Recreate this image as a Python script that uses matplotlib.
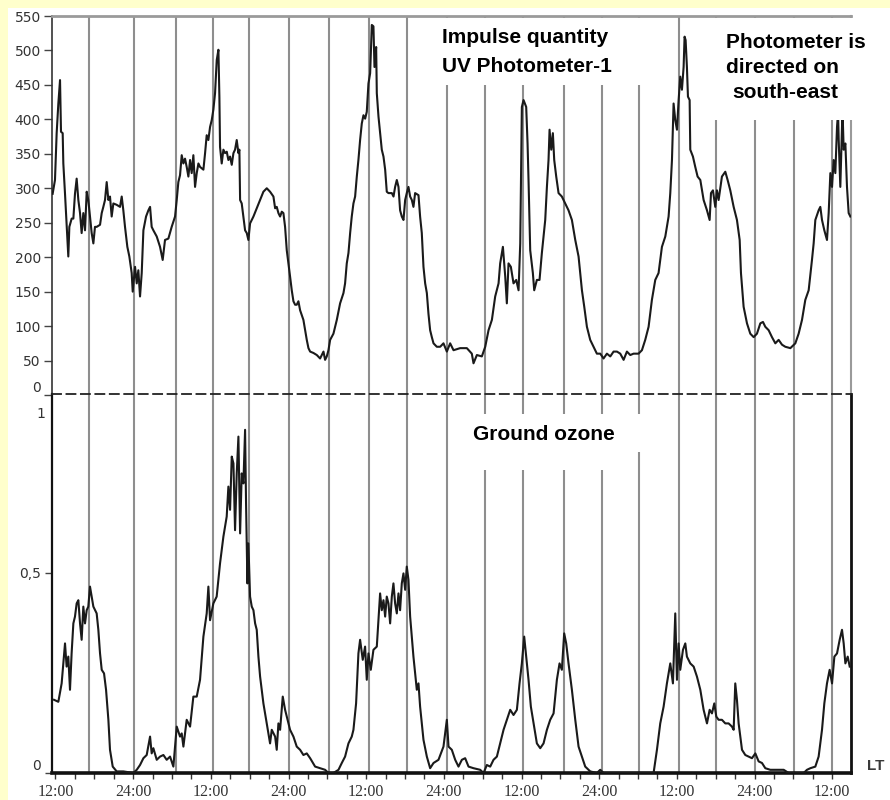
import numpy as np
import matplotlib.pyplot as plt
from matplotlib.patches import Rectangle
from matplotlib.transforms import ScaledTranslation

# hours since the first 12:00 mark
uv_points = [
    (-0.44, 292), (-0.08, 312), (0.18, 380), (0.44, 423), (0.70, 457), (0.85, 382),
    (1.11, 380), (1.21, 336), (1.47, 292), (1.73, 244), (1.98, 201), (2.14, 244),
    (2.50, 256), (2.76, 256), (3.01, 292), (3.27, 314), (3.53, 283), (3.79, 264),
    (4.04, 235), (4.30, 264), (4.56, 239), (4.82, 295), (5.07, 283), (5.33, 259),
    (5.59, 235), (5.85, 220), (6.10, 244), (6.36, 244), (6.88, 247), (7.14, 264),
    (7.39, 273), (7.65, 283), (7.91, 309), (8.17, 283), (8.42, 288), (8.68, 259),
    (8.94, 278), (9.45, 276), (9.97, 273), (10.23, 288), (10.48, 268), (10.74, 244),
    (11.10, 215), (11.41, 201), (11.77, 177), (11.93, 150), (12.29, 186), (12.55, 162),
    (12.80, 181), (13.06, 143), (13.32, 177), (13.58, 239), (13.99, 259), (14.35, 268),
    (14.61, 273), (14.86, 244), (15.12, 239), (15.64, 230), (16.15, 215), (16.56, 196),
    (16.92, 225), (17.44, 227), (17.95, 244), (18.47, 259), (18.73, 283), (18.98, 309),
    (19.24, 319), (19.50, 348), (19.76, 336), (20.01, 343), (20.27, 331), (20.53, 317),
    (20.79, 341), (21.04, 322), (21.30, 348), (21.56, 302), (21.82, 322), (22.08, 336),
    (22.33, 331), (22.85, 327), (23.11, 351), (23.36, 377), (23.62, 370), (23.88, 389),
    (24.14, 399), (24.39, 414), (24.65, 438), (24.91, 486), (25.17, 501), (25.32, 433),
    (25.42, 360), (25.68, 336), (25.94, 356), (26.20, 351), (26.46, 353), (26.71, 341),
    (26.97, 346), (27.23, 334), (27.49, 351), (27.74, 356), (28.00, 370), (28.26, 351),
    (28.41, 356), (28.52, 283), (28.77, 278), (29.03, 259), (29.29, 239), (29.55, 235),
    (29.80, 225), (30.06, 249), (30.58, 259), (31.09, 271), (31.61, 283), (32.12, 295),
    (32.64, 300), (33.15, 295), (33.67, 288), (33.93, 271), (34.18, 273), (34.44, 264),
    (34.70, 259), (34.96, 266), (35.21, 264), (35.47, 244), (35.73, 210), (35.99, 191),
    (36.24, 172), (36.50, 152), (36.76, 136), (37.02, 131), (37.27, 131), (37.53, 136),
    (37.79, 123), (38.05, 116), (38.30, 109), (38.56, 94), (38.82, 80), (39.08, 68),
    (39.34, 63), (39.85, 61), (40.37, 58), (40.88, 53), (41.40, 63), (41.65, 51),
    (41.91, 56), (42.17, 65), (42.43, 80), (42.94, 89), (43.46, 109), (43.97, 133),
    (44.49, 148), (44.74, 162), (45.00, 191), (45.26, 206), (45.52, 235), (45.77, 259),
    (46.03, 278), (46.29, 288), (46.55, 317), (46.80, 341), (47.06, 370), (47.32, 394),
    (47.58, 406), (47.84, 401), (48.09, 411), (48.35, 452), (48.61, 467), (48.87, 537),
    (49.12, 535), (49.28, 476), (49.54, 505), (49.64, 438), (49.90, 404), (50.15, 380),
    (50.41, 356), (50.67, 346), (50.93, 327), (51.18, 295), (51.44, 293), (51.96, 293),
    (52.22, 288), (52.47, 302), (52.73, 312), (52.99, 302), (53.24, 268), (53.50, 259),
    (53.76, 254), (54.02, 283), (54.27, 293), (54.53, 302), (54.79, 288), (55.05, 283),
    (55.30, 273), (55.56, 293), (56.08, 290), (56.33, 259), (56.59, 235), (56.85, 186),
    (57.11, 162), (57.37, 148), (57.62, 118), (57.88, 94), (58.14, 84), (58.40, 75),
    (58.91, 70), (59.43, 70), (59.94, 75), (60.46, 63), (60.97, 75), (61.49, 65),
    (62.52, 68), (63.55, 68), (64.32, 60), (64.58, 46), (65.10, 58), (65.87, 56),
    (66.39, 70), (66.90, 94), (67.42, 109), (67.93, 143), (68.45, 162), (68.70, 191),
    (69.12, 215), (69.48, 172), (69.73, 133), (69.99, 191), (70.35, 186), (70.76, 162),
    (71.18, 167), (71.54, 152), (71.80, 220), (72.05, 418), (72.31, 428), (72.72, 418),
    (72.93, 365), (73.08, 312), (73.34, 210), (73.75, 177), (73.96, 152), (74.37, 167),
    (74.78, 167), (75.14, 206), (75.66, 254), (75.92, 302), (76.17, 341), (76.33, 385),
    (76.59, 356), (76.84, 380), (77.05, 341), (77.36, 317), (77.72, 293), (78.23, 288),
    (78.75, 278), (79.26, 268), (79.78, 254), (80.30, 225), (80.81, 201), (81.33, 152),
    (81.69, 128), (82.10, 99), (82.61, 80), (83.13, 70), (83.64, 60), (84.16, 60),
    (84.67, 53), (85.19, 60), (85.71, 56), (86.22, 63), (86.74, 63), (87.25, 60),
    (87.77, 51), (88.28, 63), (88.80, 58), (89.31, 60), (90.08, 60), (90.60, 65),
    (91.11, 80), (91.63, 99), (92.14, 138), (92.66, 167), (93.17, 177), (93.69, 215),
    (94.21, 230), (94.72, 259), (94.98, 293), (95.24, 341), (95.49, 423), (95.75, 399),
    (96.01, 385), (96.27, 428), (96.52, 462), (96.78, 443), (97.04, 476), (97.19, 520),
    (97.35, 515), (97.55, 476), (97.71, 433), (97.97, 428), (98.07, 356), (98.48, 346),
    (98.84, 331), (99.20, 317), (99.62, 312), (100.13, 283), (100.65, 268), (101.06, 254),
    (101.27, 293), (101.57, 297), (101.93, 273), (102.19, 297), (102.45, 283), (102.96, 317),
    (103.48, 324), (103.84, 312), (104.25, 297), (104.77, 273), (105.28, 254), (105.70, 225),
    (105.90, 177), (106.31, 128), (106.83, 104), (107.34, 89), (107.86, 84), (108.37, 89),
    (108.89, 104), (109.30, 106), (109.66, 99), (110.18, 94), (110.69, 84), (111.21, 75),
    (111.72, 80), (112.24, 73), (112.75, 70), (113.53, 68), (114.30, 75), (114.81, 89),
    (115.33, 109), (115.84, 138), (116.36, 152), (116.87, 196), (117.13, 220), (117.39, 254),
    (117.90, 268), (118.16, 273), (118.42, 254), (118.78, 239), (119.19, 225), (119.45, 264),
    (119.71, 322), (119.97, 302), (120.22, 341), (120.48, 322), (120.74, 389), (120.90, 410),
    (121.00, 370), (121.25, 302), (121.51, 389), (121.60, 410), (121.77, 356), (122.03, 365),
    (122.28, 302), (122.54, 264), (122.80, 259),
]

ozone_points = [
    (-0.23, 0.183), (0.44, 0.178), (0.95, 0.224), (1.47, 0.324), (1.72, 0.266), (1.98, 0.291),
    (2.24, 0.208), (2.49, 0.299), (2.76, 0.374), (3.01, 0.391), (3.27, 0.424), (3.53, 0.432),
    (3.79, 0.374), (4.04, 0.333), (4.30, 0.416), (4.56, 0.374), (4.82, 0.407), (5.07, 0.416),
    (5.33, 0.466), (5.59, 0.441), (5.85, 0.416), (6.36, 0.399), (6.62, 0.358), (6.88, 0.299),
    (7.14, 0.258), (7.50, 0.249), (7.81, 0.208), (8.17, 0.133), (8.42, 0.058), (8.84, 0.016),
    (9.45, 0.004), (10.48, 0.004), (12.03, 0.0), (12.55, 0.008), (13.06, 0.020), (13.58, 0.037),
    (14.09, 0.045), (14.61, 0.091), (14.86, 0.049), (15.12, 0.062), (15.64, 0.033), (16.15, 0.041),
    (16.67, 0.045), (17.18, 0.033), (17.70, 0.041), (18.21, 0.016), (18.73, 0.116), (19.24, 0.091),
    (19.50, 0.099), (19.76, 0.066), (20.27, 0.133), (20.79, 0.116), (21.30, 0.191), (21.82, 0.191),
    (22.33, 0.233), (22.85, 0.341), (23.36, 0.399), (23.62, 0.466), (23.88, 0.382), (24.39, 0.424),
    (24.90, 0.441), (25.42, 0.524), (25.94, 0.591), (26.45, 0.641), (26.71, 0.716), (26.97, 0.658),
    (27.23, 0.791), (27.49, 0.774), (27.74, 0.607), (28.00, 0.749), (28.26, 0.841), (28.52, 0.599),
    (28.77, 0.749), (29.03, 0.724), (29.29, 0.858), (29.44, 0.674), (29.65, 0.474), (29.80, 0.574),
    (30.06, 0.441), (30.32, 0.416), (30.58, 0.407), (30.84, 0.374), (31.09, 0.358), (31.35, 0.291),
    (31.61, 0.241), (32.12, 0.174), (32.64, 0.124), (33.15, 0.074), (33.41, 0.108), (33.93, 0.091),
    (34.18, 0.058), (34.44, 0.124), (34.70, 0.108), (35.11, 0.191), (35.47, 0.158), (35.73, 0.141),
    (36.24, 0.108), (36.76, 0.091), (37.27, 0.066), (37.79, 0.058), (38.30, 0.045), (38.82, 0.049),
    (39.34, 0.037), (40.11, 0.016), (40.88, 0.012), (41.65, 0.008), (42.17, 0.0), (42.94, 0.0),
    (43.72, 0.008), (44.23, 0.025), (44.74, 0.041), (45.26, 0.074), (45.77, 0.091), (46.03, 0.108),
    (46.44, 0.174), (46.80, 0.299), (47.06, 0.333), (47.47, 0.283), (47.83, 0.316), (48.09, 0.233),
    (48.35, 0.299), (48.71, 0.258), (49.12, 0.308), (49.64, 0.316), (49.90, 0.382), (50.15, 0.449),
    (50.41, 0.407), (50.67, 0.432), (50.93, 0.391), (51.18, 0.441), (51.44, 0.424), (51.70, 0.374),
    (51.96, 0.441), (52.21, 0.474), (52.47, 0.424), (52.73, 0.399), (52.99, 0.449), (53.24, 0.407),
    (53.50, 0.474), (53.76, 0.499), (54.02, 0.458), (54.27, 0.516), (54.53, 0.483), (54.79, 0.391),
    (55.30, 0.291), (55.56, 0.249), (55.82, 0.208), (56.08, 0.224), (56.33, 0.166), (56.85, 0.083),
    (57.37, 0.041), (57.88, 0.012), (58.40, 0.025), (59.17, 0.033), (59.94, 0.066), (60.46, 0.133),
    (60.72, 0.066), (61.23, 0.058), (61.75, 0.033), (62.26, 0.016), (62.78, 0.033), (63.29, 0.037),
    (63.81, 0.016), (64.58, 0.012), (65.61, 0.008), (66.13, 0.0), (66.64, 0.020), (67.16, 0.016),
    (67.67, 0.033), (68.19, 0.041), (68.70, 0.074), (69.22, 0.108), (69.73, 0.133), (70.25, 0.158),
    (70.76, 0.145), (71.28, 0.158), (71.69, 0.224), (72.05, 0.274), (72.41, 0.341), (72.72, 0.291),
    (73.08, 0.233), (73.44, 0.166), (73.86, 0.124), (74.37, 0.074), (74.89, 0.062), (75.40, 0.074),
    (75.92, 0.108), (76.43, 0.133), (76.95, 0.149), (77.46, 0.233), (77.87, 0.274), (78.23, 0.258),
    (78.59, 0.349), (78.90, 0.324), (79.26, 0.274), (79.78, 0.208), (80.30, 0.133), (80.81, 0.066),
    (81.33, 0.041), (81.84, 0.016), (82.61, 0.004), (83.64, 0.0), (84.16, 0.008), (84.67, 0.0),
    (92.40, 0.0), (92.92, 0.058), (93.43, 0.124), (93.95, 0.166), (94.46, 0.224), (94.98, 0.274),
    (95.39, 0.224), (95.75, 0.399), (96.01, 0.233), (96.27, 0.324), (96.52, 0.258), (96.94, 0.308),
    (97.30, 0.324), (97.55, 0.291), (98.07, 0.274), (98.59, 0.266), (99.10, 0.241), (99.62, 0.208),
    (100.13, 0.158), (100.65, 0.124), (101.06, 0.158), (101.42, 0.149), (101.78, 0.174), (102.09, 0.141),
    (102.45, 0.133), (102.96, 0.133), (103.48, 0.124), (103.99, 0.124), (104.51, 0.116), (104.77, 0.108),
    (105.02, 0.224), (105.28, 0.183), (105.54, 0.124), (106.06, 0.058), (106.57, 0.045), (107.09, 0.041),
    (107.60, 0.037), (108.12, 0.049), (108.63, 0.029), (109.15, 0.025), (109.66, 0.012), (110.43, 0.008),
    (111.46, 0.008), (112.50, 0.008), (113.27, 0.0), (115.59, 0.0), (116.10, 0.008), (116.62, 0.012),
    (117.39, 0.016), (117.90, 0.041), (118.42, 0.108), (118.78, 0.174), (119.19, 0.224), (119.60, 0.258),
    (119.97, 0.224), (120.33, 0.291), (120.74, 0.299), (121.15, 0.333), (121.51, 0.358), (121.77, 0.324),
    (122.03, 0.274), (122.39, 0.291), (122.70, 0.266),
]

# vertical reference lines (roughly every 6 h)
grid_hours = [5.2, 12.1, 18.6, 24.3, 29.9, 36.1, 42.3, 48.5, 54.3, 60.5,
              66.4, 72.3, 78.5, 84.5, 90.2, 96.4, 102.1, 108.1, 114.1, 119.9]
time_ticks = [0, 12, 24, 36, 48, 60, 72, 84, 96, 108, 120]
time_labels = ['12:00', '24:00', '12:00', '24:00', '12:00', '24:00',
               '12:00', '24:00', '12:00', '24:00', '12:00']
uv_ticks = list(range(0, 551, 50))
ozone_ticks = [0, 0.5]
ozone_labels = ['0', '0,5']

uv_hours, uv_counts = zip(*uv_points)
oz_hours, oz_values = zip(*ozone_points)

x_min, x_max = -0.54, 122.9
line_col = '#1a1a1a'
grid_col = '#8e8e8e'

fig = plt.figure(figsize=(8.9, 8.0), dpi=100, facecolor='white')
# pale yellow frame strips on the left and top
fig.patches.append(Rectangle((0, 0), 8 / 890, 1, transform=fig.transFigure,
                             facecolor='#ffffcc', edgecolor='none', zorder=-10))
fig.patches.append(Rectangle((0, 792 / 800), 1, 8 / 800, transform=fig.transFigure,
                             facecolor='#ffffcc', edgecolor='none', zorder=-10))

ax1 = fig.add_axes([52 / 890, 405 / 800, 799 / 890, 379 / 800])
ax2 = fig.add_axes([52 / 890, 27 / 800, 799 / 890, 379 / 800])
for ax in (ax1, ax2):
    ax.set_facecolor('white')
    ax.set_xlim(x_min, x_max)
    for h in grid_hours:
        ax.axvline(h, color=grid_col, lw=1.5, zorder=1)

# upper panel: UV photometer counts
ax1.plot(uv_hours, uv_counts, color=line_col, lw=1.5, zorder=3)
ax1.set_ylim(0, 550)
ax1.set_yticks(uv_ticks)
ax1.set_yticklabels([str(t) for t in uv_ticks])
ax1.set_xticks([])
ax1.spines['bottom'].set_visible(False)
ax1.spines['top'].set_color('#9a9a9a')
ax1.spines['top'].set_linewidth(2)
ax1.spines['right'].set_color('#9a9a9a')
ax1.spines['right'].set_linewidth(1.5)
ax1.spines['left'].set_color('#333333')
ax1.spines['left'].set_linewidth(1.2)
ax1.tick_params(axis='y', direction='out', length=6, width=1, color='#444444',
                pad=2, labelsize=10, labelcolor='#333333')

# lower panel: ground ozone
ax2.plot(oz_hours, oz_values, color=line_col, lw=1.5, zorder=3)
ax2.set_ylim(0, 0.9475)
ax2.set_yticks(ozone_ticks)
ax2.set_yticklabels(ozone_labels)
ax2.text(-0.008, 0.947, '1', transform=ax2.transAxes, ha='right', va='center',
         fontsize=10, color='#333333')
ax2.set_xticks(time_ticks)
ax2.set_xticklabels(time_labels, family='Liberation Serif', fontsize=11.5, color='#333333')
ax2.set_xticks(np.arange(0, 123, 3), minor=True)
ax2.tick_params(axis='x', which='both', direction='out', length=4, width=1,
                color='#333333', pad=4)
ax2.tick_params(axis='y', direction='out', length=5, width=1, color='#444444',
                pad=3, labelsize=10, labelcolor='#333333')
ax2.spines['top'].set_linestyle((0, (5, 3)))
ax2.spines['top'].set_linewidth(1.3)
ax2.spines['top'].set_color('#222222')
ax2.spines['left'].set_linewidth(1.6)
ax2.spines['bottom'].set_linewidth(2.6)
ax2.spines['right'].set_linewidth(2.0)
for s in ('left', 'bottom', 'right'):
    ax2.spines[s].set_color('#111111')

# the "0" labels sit a little above their ticks in the original
lift = ScaledTranslation(0, 8 / 100, fig.dpi_scale_trans)
for lab in (ax1.get_yticklabels()[0], ax2.get_yticklabels()[0]):
    lab.set_transform(lab.get_transform() + lift)

# white label boxes that interrupt the grid lines
bold = dict(family='Liberation Sans', fontweight='bold', fontsize=15, color='black', zorder=6)
ax1.add_patch(Rectangle((0.452, 0.818), 0.290, 0.177, transform=ax1.transAxes,
                        facecolor='white', edgecolor='none', zorder=5))
ax1.add_patch(Rectangle((0.827, 0.726), 0.23, 0.269, transform=ax1.transAxes,
                        facecolor='white', edgecolor='none', zorder=5, clip_on=False))
ax1.text(0.488, 0.929, 'Impulse quantity', transform=ax1.transAxes, va='baseline', **bold)
ax1.text(0.488, 0.852, 'UV Photometer-1', transform=ax1.transAxes, va='baseline', **bold)
ax1.text(0.8435, 0.9156, 'Photometer is', transform=ax1.transAxes, va='baseline', **bold)
ax1.text(0.8435, 0.8496, 'directed on', transform=ax1.transAxes, va='baseline', **bold)
ax1.text(0.851, 0.7836, 'south-east', transform=ax1.transAxes, va='baseline', **bold)

ax2.add_patch(Rectangle((0.504, 0.799), 0.192, 0.148, transform=ax2.transAxes,
                        facecolor='white', edgecolor='none', zorder=5))
ax2.add_patch(Rectangle((0.696, 0.847), 0.046, 0.100, transform=ax2.transAxes,
                        facecolor='white', edgecolor='none', zorder=5))
ax2.text(0.527, 0.8786, 'Ground ozone', transform=ax2.transAxes, va='baseline', **bold)

fig.text(867 / 890, 34 / 800, 'LT', family='Liberation Sans', fontweight='bold',
         fontsize=11, color='#3a3a3a', ha='left', va='center')

fig.savefig('out.png', dpi=100, facecolor=fig.get_facecolor())
